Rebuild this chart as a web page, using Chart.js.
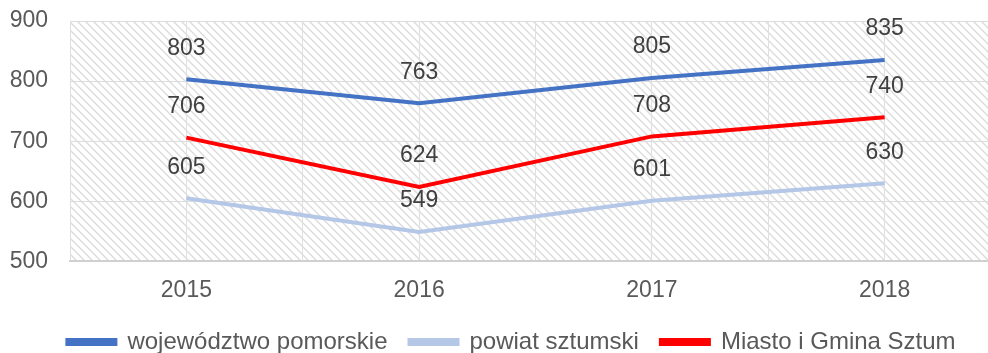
<!DOCTYPE html>
<html>
<head>
<meta charset="utf-8">
<script src="https://cdn.jsdelivr.net/npm/chart.js@4.4.1/dist/chart.umd.min.js"></script>
<style>
  html, body { margin: 0; padding: 0; background: #fff; overflow: hidden; }
  #box { width: 1024px; height: 368px; }
</style>
</head>
<body>
<div id="box"><canvas id="lineChart"></canvas></div>
<script>
const years = ['2015', '2016', '2017', '2018']
const pomorskie = [803, 763, 805, 835]
const sztumski = [605, 549, 601, 630]
const gminaSztum = [706, 624, 708, 740]
const yTicks = [500, 600, 700, 800, 900]

const seriesNames = ['województwo pomorskie', 'powiat sztumski', 'Miasto i Gmina Sztum']
const seriesColors = ['#4472C4', '#B4C7E7', '#FF0000']

const fontFamily = '"Liberation Sans", Arial, sans-serif'

// diagonal hatch used as plot area fill
const makeHatch = () => {
    const c = document.createElement('canvas')
    c.width = 8
    c.height = 8
    const g = c.getContext('2d')
    g.strokeStyle = '#dcdcdc'
    g.lineWidth = 1.4
    g.beginPath()
    g.moveTo(-2, -2); g.lineTo(10, 10)
    g.moveTo(-2, 6); g.lineTo(2, 10)
    g.moveTo(6, -2); g.lineTo(10, 2)
    g.stroke()
    return g.createPattern(c, 'repeat')
}

const hatchBackground = {
    id: 'hatchBackground',
    beforeDraw(chart) {
        const {ctx, chartArea} = chart
        ctx.save()
        ctx.fillStyle = makeHatch()
        ctx.fillRect(chartArea.left, chartArea.top, chartArea.right - chartArea.left, chartArea.bottom - chartArea.top)
        ctx.restore()
    }
}

// value labels above each point
const valueLabels = {
    id: 'valueLabels',
    afterDatasetsDraw(chart) {
        const ctx = chart.ctx
        ctx.save()
        ctx.font = '23px ' + fontFamily
        ctx.fillStyle = '#404040'
        ctx.textAlign = 'center'
        ctx.textBaseline = 'middle'
        chart.data.datasets.forEach((ds, i) => {
            chart.getDatasetMeta(i).data.forEach((pt, j) => {
                ctx.fillText(ds.data[j], pt.x, pt.y - 31)
            })
        })
        ctx.restore()
    }
}

// center the legend on the whole canvas, not between the paddings
const legendShift = {
    id: 'legendShift',
    afterLayout(chart) {
        const shift = 6
        chart.legend.left += shift
        chart.legend.right += shift
    }
}

const makeSet = (label, data, color) => ({
    label: label,
    data: data,
    borderColor: color,
    backgroundColor: color,
    borderWidth: 4,
    pointRadius: 0,
    tension: 0,
    xAxisID: 'x'
})

let chartCtx = document.getElementById('lineChart').getContext('2d')

let lineChart = new Chart(chartCtx, {
    type: 'line',
    data: {
        labels: years,
        datasets: [
            makeSet(seriesNames[0], pomorskie, seriesColors[0]),
            makeSet(seriesNames[1], sztumski, seriesColors[1]),
            makeSet(seriesNames[2], gminaSztum, seriesColors[2])
        ]
    },
    options: {
        responsive: true,
        maintainAspectRatio: false,
        animation: false,
        layout: { padding: { left: 10, right: 23, top: 21, bottom: 4 } },
        plugins: {
            legend: {
                display: true,
                position: 'bottom',
                labels: {
                    boxWidth: 48,
                    boxHeight: 4,
                    padding: 22,
                    color: '#595959',
                    font: { family: fontFamily, size: 24 }
                }
            },
            tooltip: { enabled: false }
        },
        scales: {
            x: {
                type: 'category',
                offset: true,
                grid: { display: false },
                border: { color: '#d0d0d0', width: 2 },
                afterFit(scale) { scale.height -= 3 },
                ticks: {
                    color: '#595959',
                    padding: 7,
                    font: { family: fontFamily, size: 23 }
                }
            },
            xGrid: {
                type: 'linear',
                position: 'top',
                min: -0.5,
                max: years.length - 0.5,
                afterBuildTicks(scale) {
                    scale.ticks = []
                    for (let k = 0; k <= years.length * 2; k++) scale.ticks.push({ value: -0.5 + k * 0.5 })
                },
                afterFit(scale) { scale.height = 0 },
                grid: { color: '#e0e0e0', lineWidth: 1, drawTicks: false },
                border: { display: false },
                ticks: { display: false }
            },
            y: {
                min: 500,
                max: 900,
                afterBuildTicks(scale) {
                    scale.ticks = yTicks.map(v => ({ value: v }))
                },
                // labels may overhang the plot top, keep the axis narrow
                afterFit(scale) {
                    scale.width = 60
                    scale.paddingTop = 0
                    scale.paddingBottom = 0
                },
                grid: { color: '#dcdcdc', lineWidth: 1, drawTicks: false },
                border: { display: false },
                ticks: {
                    color: '#595959',
                    padding: 22,
                    font: { family: fontFamily, size: 23 }
                }
            }
        }
    },
    plugins: [hatchBackground, valueLabels, legendShift]
})
</script>
</body>
</html>
